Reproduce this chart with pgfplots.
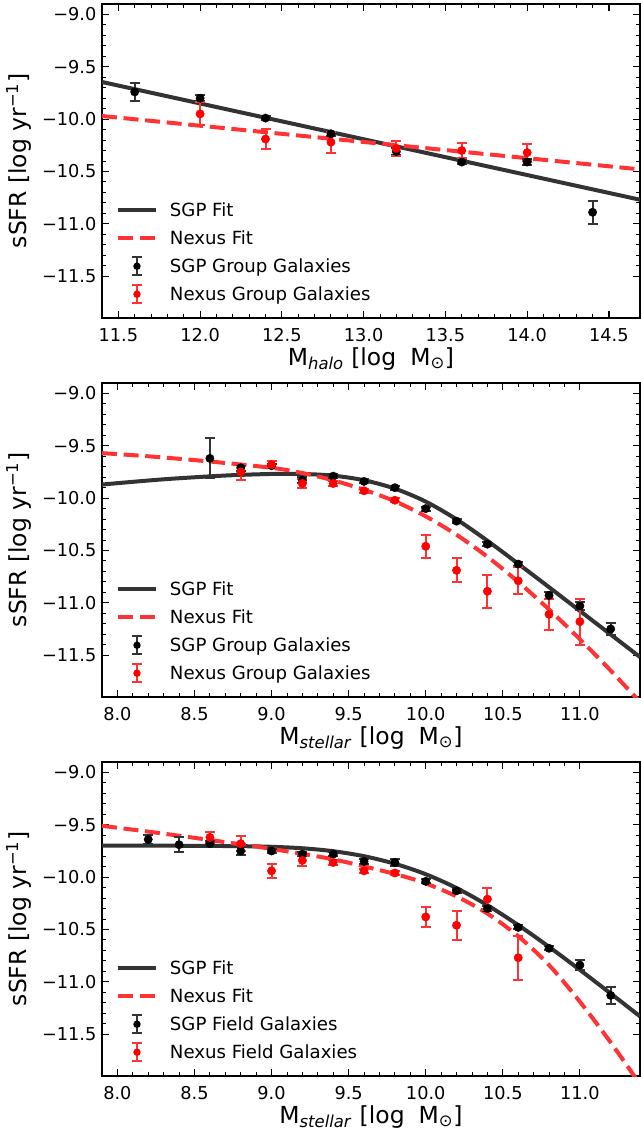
\documentclass[border=0pt]{standalone}
\usepackage{fontspec}
\setmainfont{DejaVu Sans}
\usepackage{pgfplots}
\pgfplotsset{compat=1.18}
\definecolor{sgpline}{HTML}{333333}
\definecolor{nexline}{HTML}{FF3333}
\newcommand{\tickfont}{\fontsize{13.3}{16}\selectfont}
\newcommand{\legfont}{\fontsize{13.6}{16}\selectfont}
\newcommand{\labfont}{\fontsize{17.6}{20}\selectfont}
\pgfplotsset{
  panel/.style={
    scale only axis,
    width=403.5pt, height=235.5pt,
    anchor=south west,
    ymin=-11.9, ymax=-8.9,
    ytick={-11.5,-11,-10.5,-10,-9.5,-9},
    yticklabels={−11.5,−11.0,−10.5,−10.0,−9.5,−9.0},
    minor y tick num=4,
    minor x tick num=4,
    tick align=inside,
    major tick length=5.25pt,
    minor tick length=3pt,
    every tick/.append style={black, line width=0.9pt},
    every minor tick/.append style={black, line width=0.7pt},
    axis line style={black, line width=1pt},
    tick label style={font=\tickfont, black},
    xticklabel style={anchor=base, yshift=-17.25pt},
    yticklabel style={anchor=east, inner sep=0pt, xshift=-4pt},
    every axis x label/.style={at={(axis description cs:0.5,-0.151)}, anchor=base, font=\labfont},
    every axis y label/.style={at={(axis description cs:-0.1403,0.5)}, rotate=90, anchor=base, font=\labfont},
    ylabel={sSFR [log yr\textsuperscript{−1}]},
    legend cell align=left,
    legend style={draw=none, fill=none, at={(axis description cs:0.0255,0.376)}, anchor=north west,
      inner sep=0pt, row sep=6pt, font=\legfont, nodes={inner sep=1pt}},
  },
  fitsgp/.style={sgpline, line width=3pt, smooth, no marks,
    legend image code/.code={\draw[##1] (0pt,0pt) -- (28.5pt,0pt); \path[draw=none,fill=none] (0pt,-7.5pt) rectangle (38pt,7.5pt);}},
  fitnex/.style={nexline, line width=3pt, smooth, no marks, dash pattern=on 11.25pt off 5pt,
    legend image code/.code={\draw[##1] (0pt,0pt) -- (28.5pt,0pt); \path[draw=none,fill=none] (0pt,-7.5pt) rectangle (38pt,7.5pt);}},
  sgppts/.style={only marks, mark=*, mark size=3.1pt, black, mark options={fill=black, draw=black, solid},
    legend image code/.code={
      \draw[sgpline, line width=1.5pt, solid] (14.25pt,-6.75pt) -- (14.25pt,6.75pt);
      \draw[sgpline, line width=1.5pt, solid] (10.5pt,-6.75pt) -- (18pt,-6.75pt) (10.5pt,6.75pt) -- (18pt,6.75pt);
      \fill[black, draw=none] (14.25pt,0pt) circle (2.8pt);
      \path[draw=none,fill=none] (0pt,-7.5pt) rectangle (38pt,7.5pt);},
    error bars/.cd, y dir=both, y explicit,
    error bar style={line width=1.5pt, sgpline, solid},
    error mark options={rotate=90, mark size=3.75pt, line width=1.5pt, sgpline, solid}},
  nexpts/.style={only marks, mark=*, mark size=3.1pt, red, mark options={fill=red, draw=red, solid},
    legend image code/.code={
      \draw[nexline, line width=1.5pt, solid] (14.25pt,-6.75pt) -- (14.25pt,6.75pt);
      \draw[nexline, line width=1.5pt, solid] (10.5pt,-6.75pt) -- (18pt,-6.75pt) (10.5pt,6.75pt) -- (18pt,6.75pt);
      \fill[red, draw=none] (14.25pt,0pt) circle (2.8pt);
      \path[draw=none,fill=none] (0pt,-7.5pt) rectangle (38pt,7.5pt);},
    error bars/.cd, y dir=both, y explicit,
    error bar style={line width=1.5pt, nexline, solid},
    error mark options={rotate=90, mark size=3.75pt, line width=1.5pt, nexline, solid}},
}
\begin{document}
\begin{tikzpicture}
%% ---------------- Panel 1: halo mass ----------------
\begin{axis}[panel, at={(76.5pt,-238.5pt)},
  xmin=11.40, xmax=14.69,
  xtick={11.5,12.0,12.5,13.0,13.5,14.0,14.5},
  xticklabels={11.5,12.0,12.5,13.0,13.5,14.0,14.5},
  xlabel={M\textsubscript{\textit{halo}} [log\hspace{0.6em}M\textsubscript{⊙}]}]
\addplot[fitsgp] coordinates {(11.40,-9.645) (14.69,-10.77)};
\addlegendentry{SGP Fit}
\addplot[fitnex] coordinates {(11.40,-9.97) (14.69,-10.48)};
\addlegendentry{Nexus Fit}
\addplot[sgppts] coordinates {
 (11.6,-9.74) +- (0,0.09)
 (12.0,-9.80) +- (0,0.03)
 (12.4,-9.99) +- (0,0.02)
 (12.8,-10.14) +- (0,0.02)
 (13.2,-10.31) +- (0,0.03)
 (13.6,-10.41) +- (0,0.02)
 (14.0,-10.41) +- (0,0.03)
 (14.4,-10.89) +- (0,0.11)
};
\addlegendentry{SGP Group Galaxies}
\addplot[nexpts] coordinates {
 (12.0,-9.95) +- (0,0.11)
 (12.4,-10.19) +- (0,0.10)
 (12.8,-10.22) +- (0,0.10)
 (13.2,-10.28) +- (0,0.07)
 (13.6,-10.30) +- (0,0.075)
 (14.0,-10.32) +- (0,0.08)
};
\addlegendentry{Nexus Group Galaxies}
\end{axis}
%% ---------------- Panel 2: stellar mass, group ----------------
\begin{axis}[panel, at={(76.5pt,-522.75pt)},
  xmin=7.9, xmax=11.39,
  xtick={8.0,8.5,9.0,9.5,10.0,10.5,11.0},
  xticklabels={8.0,8.5,9.0,9.5,10.0,10.5,11.0},
  xlabel={M\textsubscript{\textit{stellar}} [log\hspace{0.6em}M\textsubscript{⊙}]}]
\addplot[fitsgp] coordinates {
 (7.9,-9.87) (8.3,-9.82) (8.7,-9.784) (9.0,-9.769) (9.2,-9.769) (9.4,-9.785)
 (9.6,-9.829) (9.8,-9.909) (10.0,-10.033) (10.2,-10.203) (10.4,-10.407) (10.6,-10.627)
 (10.8,-10.851) (11.0,-11.077) (11.2,-11.303) (11.39,-11.518)};
\addlegendentry{SGP Fit}
\addplot[fitnex] coordinates {
 (7.9,-9.57) (8.2,-9.60) (8.6,-9.65) (9.0,-9.71) (9.2,-9.76) (9.4,-9.83)
 (9.6,-9.92) (9.8,-10.03) (10.0,-10.174) (10.2,-10.35) (10.4,-10.56) (10.6,-10.80)
 (10.8,-11.064) (11.0,-11.348) (11.2,-11.648) (11.4,-11.964)};
\addlegendentry{Nexus Fit}
\addplot[sgppts] coordinates {
 (8.6,-9.62) +- (0,0.19)
 (8.8,-9.71) +- (0,0.03)
 (9.0,-9.69) +- (0,0.02)
 (9.2,-9.83) +- (0,0.03)
 (9.4,-9.79) +- (0,0.02)
 (9.6,-9.84) +- (0,0.02)
 (9.8,-9.90) +- (0,0.02)
 (10.0,-10.10) +- (0,0.02)
 (10.2,-10.22) +- (0,0.02)
 (10.4,-10.44) +- (0,0.02)
 (10.6,-10.63) +- (0,0.02)
 (10.8,-10.93) +- (0,0.03)
 (11.0,-11.03) +- (0,0.04)
 (11.2,-11.25) +- (0,0.06)
};
\addlegendentry{SGP Group Galaxies}
\addplot[nexpts] coordinates {
 (8.8,-9.75) +- (0,0.08)
 (9.0,-9.68) +- (0,0.035)
 (9.2,-9.86) +- (0,0.04)
 (9.4,-9.86) +- (0,0.02)
 (9.6,-9.93) +- (0,0.02)
 (9.8,-10.02) +- (0,0.02)
 (10.0,-10.46) +- (0,0.11)
 (10.2,-10.69) +- (0,0.115)
 (10.4,-10.89) +- (0,0.155)
 (10.6,-10.79) +- (0,0.13)
 (10.8,-11.11) +- (0,0.15)
 (11.0,-11.18) +- (0,0.22)
};
\addlegendentry{Nexus Group Galaxies}
\end{axis}
%% ---------------- Panel 3: stellar mass, field ----------------
\begin{axis}[panel, at={(76.5pt,-807pt)},
  xmin=7.9, xmax=11.39,
  xtick={8.0,8.5,9.0,9.5,10.0,10.5,11.0},
  xticklabels={8.0,8.5,9.0,9.5,10.0,10.5,11.0},
  xlabel={M\textsubscript{\textit{stellar}} [log\hspace{0.6em}M\textsubscript{⊙}]}]
\addplot[fitsgp] coordinates {
 (7.9,-9.70) (8.4,-9.70) (8.8,-9.704) (9.0,-9.71) (9.2,-9.724) (9.4,-9.752)
 (9.6,-9.80) (9.8,-9.872) (10.0,-9.972) (10.2,-10.104) (10.4,-10.268) (10.6,-10.458)
 (10.8,-10.666) (11.0,-10.886) (11.2,-11.112) (11.39,-11.33)};
\addlegendentry{SGP Fit}
\addplot[fitnex] coordinates {
 (7.9,-9.51) (8.2,-9.565) (8.6,-9.645) (9.0,-9.73) (9.4,-9.83) (9.8,-9.97)
 (10.0,-10.06) (10.2,-10.184) (10.4,-10.348) (10.6,-10.564) (10.8,-10.84)
 (11.0,-11.19) (11.2,-11.58) (11.4,-12.0)};
\addlegendentry{Nexus Fit}
\addplot[sgppts] coordinates {
 (8.2,-9.64) +- (0,0.04)
 (8.4,-9.69) +- (0,0.07)
 (8.6,-9.68) +- (0,0.03)
 (8.8,-9.75) +- (0,0.04)
 (9.0,-9.75) +- (0,0.02)
 (9.2,-9.78) +- (0,0.02)
 (9.4,-9.78) +- (0,0.02)
 (9.6,-9.85) +- (0,0.02)
 (9.8,-9.86) +- (0,0.03)
 (10.0,-10.04) +- (0,0.02)
 (10.2,-10.13) +- (0,0.02)
 (10.4,-10.30) +- (0,0.02)
 (10.6,-10.48) +- (0,0.02)
 (10.8,-10.68) +- (0,0.02)
 (11.0,-10.84) +- (0,0.045)
 (11.2,-11.13) +- (0,0.085)
};
\addlegendentry{SGP Field Galaxies}
\addplot[nexpts] coordinates {
 (8.6,-9.62) +- (0,0.05)
 (8.8,-9.68) +- (0,0.07)
 (9.0,-9.94) +- (0,0.07)
 (9.2,-9.84) +- (0,0.05)
 (9.4,-9.86) +- (0,0.02)
 (9.6,-9.94) +- (0,0.02)
 (9.8,-9.96) +- (0,0.02)
 (10.0,-10.38) +- (0,0.095)
 (10.2,-10.46) +- (0,0.14)
 (10.4,-10.21) +- (0,0.105)
 (10.6,-10.77) +- (0,0.21)
};
\addlegendentry{Nexus Field Galaxies}
\end{axis}
\pgfresetboundingbox
\path[use as bounding box] (0pt,0pt) rectangle (480.75pt,-851.25pt);
\end{tikzpicture}
\end{document}
